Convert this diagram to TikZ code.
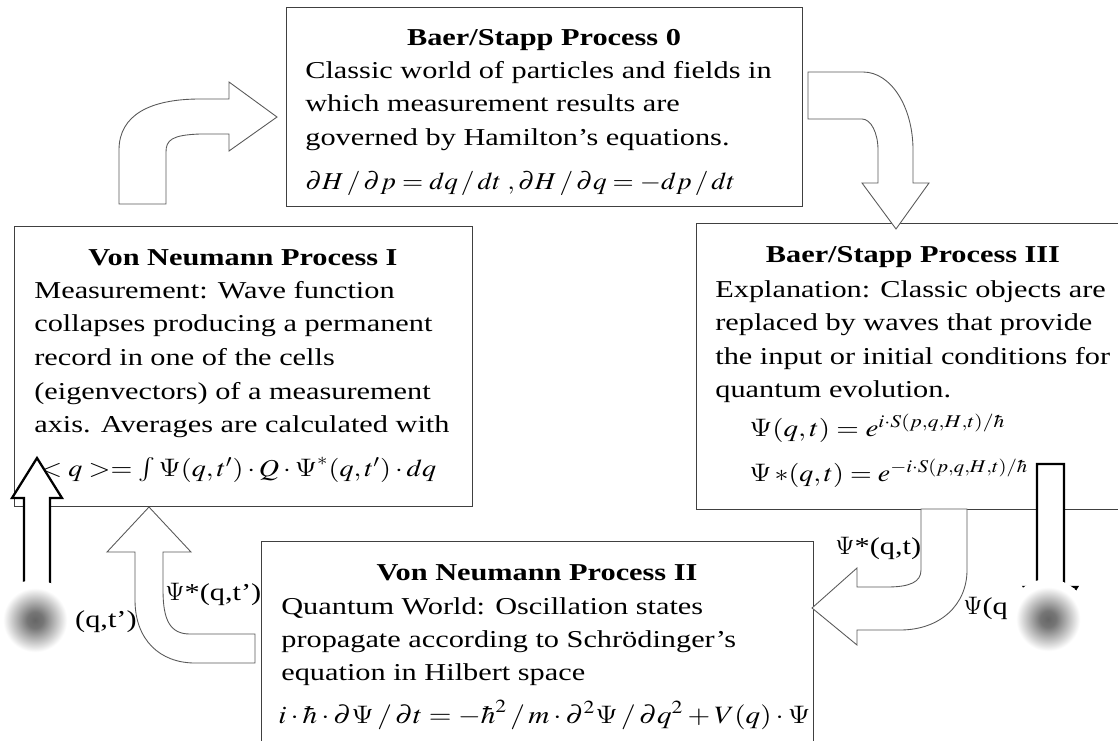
\documentclass[tikz,border=0pt]{standalone}
\usepackage{mathptmx}
\usepackage[no-math]{fontspec}
\setmainfont{Liberation Serif}[FakeStretch=1.25]
\usepackage{graphicx}
\usetikzlibrary{fit}

% blurred dot: grey core fading to opaque white
\pgfdeclareradialshading{blurdot}{\pgfpoint{0bp}{0bp}}{color(0bp)=(black!60); color(5bp)=(black!54); color(20bp)=(white); color(25bp)=(white); color(50bp)=(white)}
\newcommand{\eqfit}[2]{\resizebox{#1}{\height}{#2}}
\newcommand{\Wpsi}{\mbox{\fontencoding{OT1}\fontfamily{cmr}\selectfont\char"09}}

\tikzset{
  procbox/.style={draw=black!75,fill=white,line width=0.55pt,inner sep=0pt},
  ptitle/.style={font=\bfseries,anchor=base,inner sep=0pt},
  pline/.style={anchor=base west,inner sep=0pt},
  wavelbl/.style={anchor=base west,inner sep=0pt},
  blockarrow/.style={draw=black!65,fill=white,line width=0.5pt},
  boldarrow/.style={draw=black,fill=white,line width=1.3pt},
}

\begin{document}
\fontsize{13.8}{18.5}\selectfont
\begin{tikzpicture}[x=0.02cm,y=-0.02cm]
  \useasboundingbox (0,0) rectangle (1118,740);
  \clip (0,0) rectangle (1118,740);

  % the four process boxes
  \node[procbox,fit={(286,7) (802,206)}] (baer0) {};
  \node[procbox,fit={(14,226) (472,506)}] (neumann1) {};
  \node[procbox,fit={(696,223) (1130,509)}] (baer3) {};
  \node[procbox,fit={(261,541) (813,760)}] (neumann2) {};

  % Baer/Stapp Process 0
  \node[ptitle] (baer0-t) at (544,46) {Baer/Stapp Process 0};
  \foreach \ln [count=\i from 0] in {{Classic world of particles and fields in},{which measurement results are},{governed by Hamilton’s equations.}}
    \node[pline] (baer0-\i) at (305,{79+33*\i}) {\ln};
  \node[pline] (baer0-eq) at (305,189) {\eqfit{8.6cm}{$\partial H\,/\,\partial p = dq\,/\,dt\;,\partial H\,/\,\partial q = -dp\,/\,dt$}};

  % Von Neumann Process I
  \node[ptitle] (neumann1-t) at (243,265) {Von Neumann Process I};
  \foreach \ln [count=\i from 0] in {{Measurement: Wave function},{collapses producing a permanent},{record in one of the cells},{(eigenvectors) of a measurement},{axis. Averages are calculated with}}
    \node[pline] (neumann1-\i) at (34,{298+33.7*\i}) {\ln};
  \node[pline] (neumann1-eq) at (40,476) {\eqfit{7.92cm}{$<q>=\int\Wpsi(q,t')\cdot Q\cdot\Wpsi^{*}(q,t')\cdot dq$}};

  % Baer/Stapp Process III
  \node[ptitle] (baer3-t) at (913,262) {Baer/Stapp Process III};
  \foreach \ln [count=\i from 0] in {{Explanation: Classic objects are},{replaced by waves that provide},{the input or initial conditions for},{quantum evolution.}}
    \node[pline] (baer3-\i) at (715,{297+33.5*\i}) {\ln};
  \node[pline] (baer3-eqa) at (749,436) {\eqfit{5.12cm}{$\Wpsi(q,t) = e^{i\cdot S(p,q,H,t)/\hbar}$}};
  \node[pline] (baer3-eqb) at (749,481) {\eqfit{5.58cm}{$\Wpsi\,{*}(q,t) = e^{-i\cdot S(p,q,H,t)/\hbar}$}};

  % Von Neumann Process II
  \node[ptitle] (neumann2-t) at (537,580) {Von Neumann Process II};
  \foreach \ln [count=\i from 0] in {{Quantum World: Oscillation states},{propagate according to Schrödinger’s},{equation in Hilbert space}}
    \node[pline] (neumann2-\i) at (281,{614+33*\i}) {\ln};
  \node[pline] (neumann2-eq) at (278,723) {\eqfit{10.64cm}{\fontsize{14.2}{17}\selectfont$i\cdot\hbar\cdot\partial\Wpsi\,/\,\partial t = -\hbar^{2}\,/\,m\cdot\partial^{2}\Wpsi\,/\,\partial q^{2} + V(q)\cdot\Wpsi$}};

  % curved block arrows
  \draw[blockarrow] (119,204) -- (119,150) .. controls (119,115) and (150,99) .. (200,99) -- (229,99) -- (229,82)
    -- (277,117) -- (229,151) -- (229,134) -- (200,134) .. controls (172,135) and (166,140) .. (166,152) -- (166,204) -- cycle;
  \draw[blockarrow] (808,72) -- (863,72) .. controls (891,72) and (913,107) .. (913,150) -- (913,183) -- (929,183)
    -- (896,229) -- (862,183) -- (878,183) -- (878,150) .. controls (878,133) and (871,119) .. (862,119) -- (808,119) -- cycle;
  \draw[blockarrow] (921,509) -- (967,509) -- (967,570) .. controls (967,605) and (940,630) .. (900,630) -- (857,630) -- (857,645)
    -- (812,608) -- (857,568) -- (857,587) -- (887,587) .. controls (910,587) and (921,582) .. (921,570) -- cycle;
  \draw[blockarrow] (255,634) -- (190,634) .. controls (170,634) and (163,620) .. (163,590) -- (163,552) -- (191,552)
    -- (149,507) -- (107,552) -- (135,552) -- (135,600) .. controls (135,640) and (160,663) .. (195,663) -- (255,663) -- cycle;

  % straight arrows
  \draw[boldarrow] (24,600) -- (24,498) -- (12,498) -- (37,458) -- (62,498) -- (50,498) -- (50,600) -- cycle;
  \draw[boldarrow] (1037,464) -- (1064,464) -- (1064,587) -- (1077,587) -- (1050.5,630) -- (1024,587) -- (1037,587) -- cycle;

  % wave function labels
  \node[wavelbl] (psistar-t) at (835,554) {\Wpsi*(q,t)};
  \node[wavelbl] (psi-t) at (963,614) {\Wpsi(q,t)};
  \node[wavelbl] (psistar-tp) at (165,600) {\Wpsi*(q,t’)};
  \node[anchor=base east,inner sep=0pt] (psi-tp) at (137,627) {\Wpsi(q,t’)};

  % blurred dots
  \shade[shading=blurdot] (35,620) circle[radius=40];
  \shade[shading=blurdot] (1048,619) circle[radius=40];
\end{tikzpicture}
\end{document}
